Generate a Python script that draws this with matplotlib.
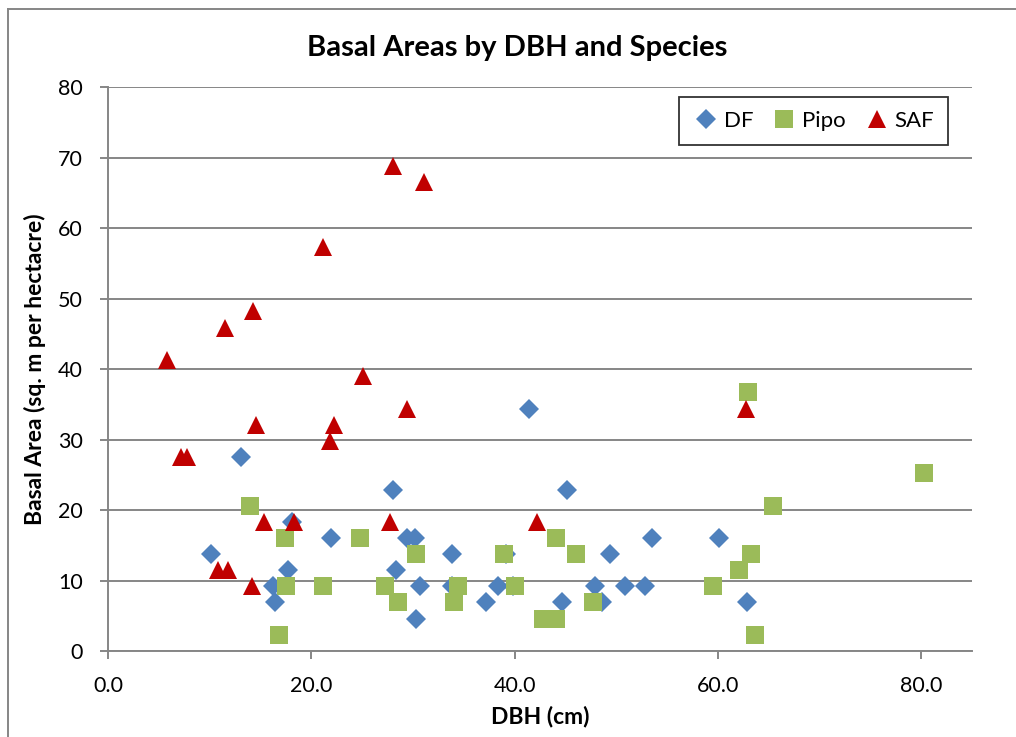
import matplotlib
matplotlib.use('Agg')
import matplotlib.pyplot as plt

plt.rcParams['font.family'] = ['Lato', 'DejaVu Sans']

# DF - Douglas fir
df_dbh = [13.1, 28.0, 18.1, 21.9, 29.4, 30.2, 10.1, 17.7, 28.3, 16.2, 30.7, 16.4, 30.3,
          41.4, 45.2, 33.8, 39.2, 33.8, 37.2, 38.4, 39.8, 44.7, 47.9, 48.6, 49.4, 50.9,
          52.8, 53.5, 60.1, 62.9]
df_ba = [27.5, 22.9, 18.3, 16.1, 16.1, 16.1, 13.8, 11.5, 11.5, 9.2, 9.2, 6.9, 4.6,
         34.4, 22.9, 13.8, 13.8, 9.2, 6.9, 9.2, 9.2, 6.9, 9.2, 6.9, 13.8, 9.2,
         9.2, 16.1, 16.1, 6.9]

# Pipo - ponderosa pine
pipo_dbh = [14.0, 17.4, 24.8, 30.3, 17.5, 21.2, 27.3, 28.5, 16.8, 34.4, 34.0, 39.0, 40.0,
            42.8, 44.1, 44.1, 46.0, 47.7, 59.5, 62.1, 63.0, 80.3, 65.4, 63.3, 63.7]
pipo_ba = [20.6, 16.1, 16.1, 13.8, 9.2, 9.2, 9.2, 6.9, 2.3, 9.2, 6.9, 13.8, 9.2,
           4.6, 4.6, 16.1, 13.8, 6.9, 9.2, 11.5, 36.7, 25.2, 20.6, 13.8, 2.3]

# SAF - subalpine fir
saf_dbh = [28.0, 31.1, 21.2, 14.3, 11.5, 5.8, 25.1, 29.4, 14.6, 22.2, 21.8, 7.2, 7.8,
           15.3, 18.3, 27.7, 10.8, 11.8, 14.2, 42.2, 62.8]
saf_ba = [68.8, 66.5, 57.3, 48.2, 45.9, 41.3, 39.0, 34.4, 32.1, 32.1, 29.8, 27.5, 27.5,
          18.3, 18.3, 18.3, 11.5, 11.5, 9.2, 18.3, 34.4]

fig = plt.figure(figsize=(10.16, 7.37), dpi=100)
ax = fig.add_axes([108/1016, 1-651/737, 864/1016, 563.7/737])

ax.plot(df_dbh, df_ba, linestyle='none', marker='D', markersize=10.5,
        color='#4F81BD', markeredgewidth=0, label='DF')
ax.plot(pipo_dbh, pipo_ba, linestyle='none', marker='s', markersize=13.5,
        color='#9BBB59', markeredgewidth=0, label='Pipo')
ax.plot(saf_dbh, saf_ba, linestyle='none', marker='^', markersize=13,
        color='#C00000', markeredgewidth=0, label='SAF')

ax.set_xlim(0, 85)
ax.set_ylim(0, 80)
ax.set_xticks([0, 20, 40, 60, 80])
ax.set_xticklabels(['0.0', '20.0', '40.0', '60.0', '80.0'])
ax.set_yticks(range(0, 81, 10))

gray = '#868686'
ax.yaxis.grid(True, color=gray, linewidth=1.4)
ax.set_axisbelow(True)
for s in ['top', 'right']:
    ax.spines[s].set_visible(False)
for s in ['left', 'bottom']:
    ax.spines[s].set_color(gray)
    ax.spines[s].set_linewidth(1.4)
ax.tick_params(axis='both', direction='out', length=6, width=1.4, color=gray,
               labelsize=15.5)
ax.tick_params(axis='y', pad=12)
ax.tick_params(axis='x', pad=12)

fig.suptitle('Basal Areas by DBH and Species', x=517/1016, y=1-48/737, va='center',
             fontsize=21, fontweight='bold')
ax.set_xlabel('DBH (cm)', fontsize=16.5, fontweight='bold', labelpad=7)
ax.set_ylabel('Basal Area (sq. m per hectacre)', fontsize=16.5, fontweight='bold', labelpad=9)

leg = ax.legend(loc='upper right', bbox_to_anchor=(0.972, 0.982), ncol=3, fontsize=16,
                frameon=True, fancybox=False, edgecolor='black', handletextpad=0.2,
                columnspacing=0.8, borderpad=0.62, handlelength=1.2, borderaxespad=0)
leg.get_frame().set_linewidth(1.3)

# outer chart border (left and top only visible)
fig.add_artist(plt.Line2D([8/1016, 8/1016], [0, 1-9/737], color=gray, linewidth=1.4))
fig.add_artist(plt.Line2D([8/1016, 1], [1-9/737, 1-9/737], color=gray, linewidth=1.4))

fig.savefig('out.png', dpi=100)
